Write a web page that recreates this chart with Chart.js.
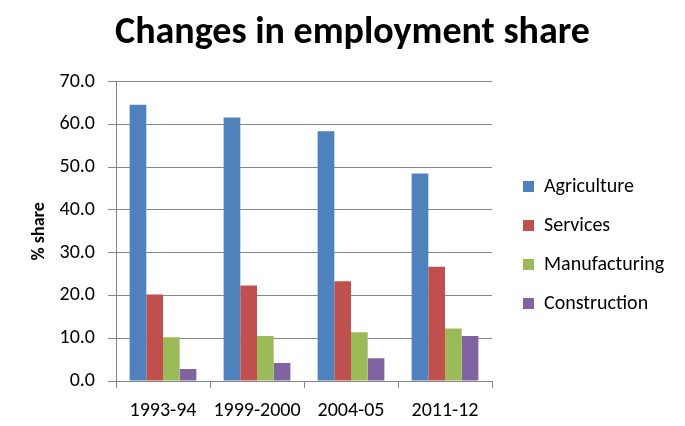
<!DOCTYPE html>
<html>
<head>
<meta charset="utf-8">
<script src="https://cdn.jsdelivr.net/npm/chart.js@4"></script>
<style>
  html, body { margin: 0; padding: 0; background: #ffffff; }
  #wrap { width: 685px; height: 426px; }
</style>
</head>
<body>
<div id="wrap"><canvas id="chart" width="685" height="426"></canvas></div>
<script>
// data
const periods = ['1993-94', '1999-2000', '2004-05', '2011-12'];
const agriculture = [64.6, 61.6, 58.4, 48.5];
const services = [20.2, 22.3, 23.3, 26.7];
const manufacturing = [10.2, 10.5, 11.4, 12.3];
const construction = [2.8, 4.2, 5.3, 10.5];

const FONT = 'Carlito, Calibri, Lato, sans-serif';
const GRID = '#868686';

// legend gets a fixed width and sits a bit away from the plot, like the original
const legendShift = {
    id: 'legendShift',
    beforeLayout(chart) {
        const lg = chart.legend;
        if (!lg || lg._patched) return;
        const fit = lg.fit.bind(lg);
        lg.fit = function () { fit(); this.width = 193; };
        lg._patched = true;
    },
    afterLayout(chart) {
        const lg = chart.legend;
        if (!lg) return;
        lg.left += 12; lg.right += 12;
        lg.top += 32; lg.bottom += 32;
    }
};

Chart.defaults.font.family = FONT;
Chart.defaults.color = '#000000';

new Chart(document.getElementById('chart').getContext('2d'), {
    type: 'bar',
    data: {
        labels: periods,
        datasets: [
            { label: 'Agriculture', data: agriculture, backgroundColor: '#4F81BD' },
            { label: 'Services', data: services, backgroundColor: '#C0504D' },
            { label: 'Manufacturing', data: manufacturing, backgroundColor: '#9BBB59' },
            { label: 'Construction', data: construction, backgroundColor: '#8064A2' }
        ]
    },
    options: {
        responsive: false,
        animation: false,
        layout: { padding: { left: 20, top: 0, right: 0, bottom: 0 } },
        datasets: { bar: { barPercentage: 1, categoryPercentage: 0.71 } },
        plugins: {
            title: {
                display: true,
                text: 'Changes in employment share',
                font: { size: 38, weight: 'bold' },
                color: '#000000',
                padding: { top: 11, bottom: 25 }
            },
            legend: {
                position: 'right',
                labels: {
                    boxWidth: 11,
                    boxHeight: 11,
                    padding: 19,
                    font: { size: 20 },
                    color: '#000000'
                }
            },
            tooltip: { enabled: false }
        },
        scales: {
            x: {
                afterFit: (s) => { s.height = 45; },
                grid: { offset: true, drawOnChartArea: false, color: GRID, tickLength: 7 },
                border: { color: GRID },
                ticks: { font: { size: 20 }, padding: 11, color: '#000000' }
            },
            y: {
                min: 0,
                max: 70,
                afterFit: (s) => { s.width = 96; },
                grid: { color: GRID, tickLength: 8 },
                border: { color: GRID },
                ticks: {
                    stepSize: 10,
                    font: { size: 20 },
                    padding: 13,
                    color: '#000000',
                    callback: (v) => v.toFixed(1)
                },
                title: {
                    display: true,
                    text: '% share',
                    font: { size: 18, weight: 'bold' },
                    color: '#000000',
                    padding: { top: 9, bottom: 0 }
                }
            }
        }
    },
    plugins: [legendShift]
});
</script>
</body>
</html>
